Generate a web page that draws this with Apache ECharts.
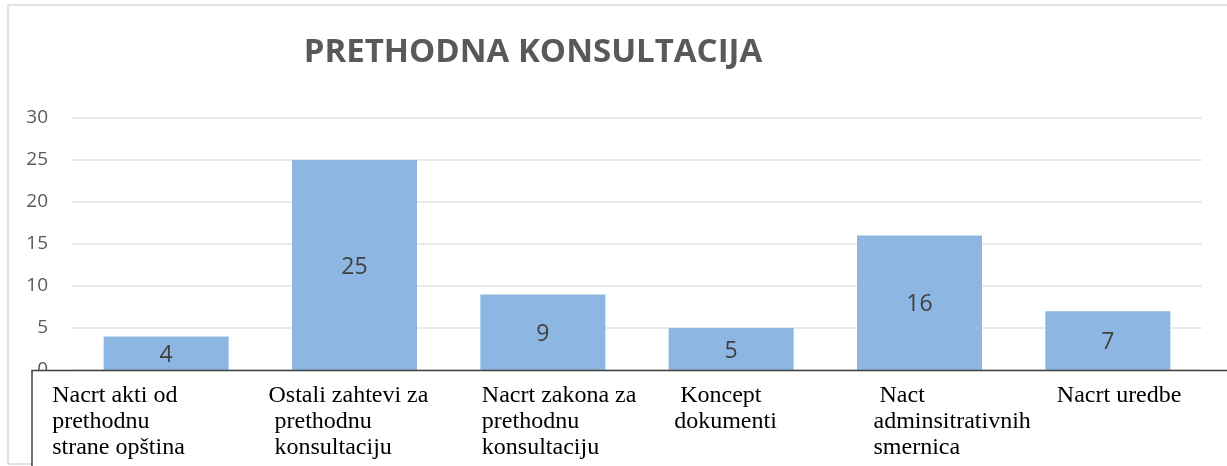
<!DOCTYPE html>
<html>
<head>
<meta charset="utf-8">
<script src="https://cdn.jsdelivr.net/npm/echarts@6/dist/echarts.min.js"></script>
<style>
  html, body { margin: 0; padding: 0; background: #fff; }
  #chart { width: 1227px; height: 466px; }
</style>
</head>
<body>
<div id="chart"></div>
<script>
const categories = [
  'Nacrt akti od\nprethodnu\nstrane opština',
  'Ostali zahtevi za\n prethodnu\n konsultaciju',
  'Nacrt zakona za\nprethodnu\nkonsultaciju',
  ' Koncept\ndokumenti',
  ' Nact\nadminsitrativnih\nsmernica',
  'Nacrt uredbe'
]
const values = [4, 25, 9, 5, 16, 7]
const yTicks = { min: 0, max: 30, interval: 5 }

// horizontal shift of each category label from its band centre
const labelShift = [-114, -86, -61, -57, -46, -51]

const myChart = echarts.init(document.getElementById('chart'))
const option = {
  animation: false,
  title: {
    text: 'PRETHODNA KONSULTACIJA',
    left: 528,
    top: 31,
    textAlign: 'center',
    textStyle: {
      fontFamily: 'Open Sans',
      fontWeight: 'bold',
      fontSize: 33,
      color: '#595959'
    }
  },
  grid: { left: 72, right: 25, top: 118, bottom: 96 },
  graphic: [
    {
      type: 'rect',
      z: -10,
      silent: true,
      shape: { x: 8, y: 5, width: 1240, height: 459 },
      style: { fill: 'none', stroke: '#d9d9d9', lineWidth: 1.5 }
    },
    {
      type: 'rect',
      z: 50,
      silent: true,
      shape: { x: 32, y: 370.5, width: 1220, height: 120 },
      style: { fill: '#fff', stroke: '#404040', lineWidth: 1.5 }
    }
  ],
  xAxis: {
    type: 'category',
    z: 60,
    data: categories.map((c, i) => ({
      value: c,
      textStyle: { align: 'left', padding: [0, 0, 0, labelShift[i]] }
    })),
    axisLine: { show: false },
    axisTick: { show: false },
    axisLabel: {
      interval: 0,
      align: 'left',
      verticalAlign: 'top',
      margin: 13,
      fontFamily: 'Liberation Serif',
      fontSize: 24,
      lineHeight: 26,
      color: '#000'
    }
  },
  yAxis: {
    type: 'value',
    z: 0,
    min: yTicks.min,
    max: yTicks.max,
    interval: yTicks.interval,
    axisLine: { show: false },
    axisTick: { show: false },
    axisLabel: {
      margin: 24,
      fontFamily: 'Open Sans',
      fontSize: 19,
      color: '#595959'
    },
    splitLine: { lineStyle: { color: '#e3e3e3', width: 1.5 } }
  },
  series: [
    {
      type: 'bar',
      data: values,
      barWidth: 125,
      itemStyle: { color: '#8db7e2' },
      label: {
        show: true,
        position: 'inside',
        offset: [0, 2],
        fontFamily: 'Open Sans',
        fontSize: 23,
        color: '#404040'
      }
    }
  ]
}
myChart.setOption(option)
</script>
</body>
</html>
